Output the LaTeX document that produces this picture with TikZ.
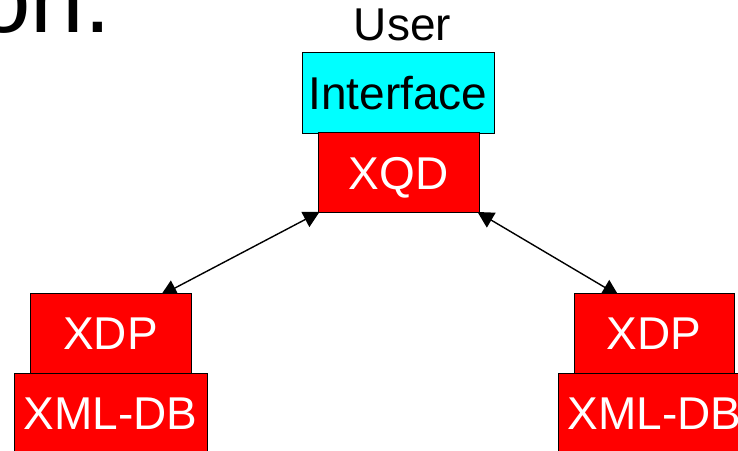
\documentclass[tikz,border=0pt]{standalone}
\usepackage{fontspec}
\setmainfont{Liberation Sans}
\usetikzlibrary{backgrounds,arrows.meta,calc}
\definecolor{tierred}{RGB}{255,0,0}
\definecolor{tiercyan}{RGB}{0,255,255}
\begin{document}
\begin{tikzpicture}[x=1pt,y=-1pt,
  label46/.style={font=\fontsize{46}{46}\selectfont, inner sep=0pt,
    text height=33pt, text depth=0pt},
  tier/.style={label46, draw=black, line width=1pt},
  redtier/.style={tier, fill=tierred, text=white},
  cyantier/.style={tier, fill=tiercyan, text=black},
  link/.style={line width=1.4pt,
    {Triangle[length=16pt,width=17pt]}-{Triangle[length=16pt,width=17pt]}}]
\useasboundingbox (0,0) rectangle (738,450);

% tail of the slide title above the diagram
\node[font=\fontsize{96}{96}\selectfont, inner sep=0pt, anchor=base east]
  (title) at (111,32) {on.};

% query side
\node[label46] (user) at (402.5,24) {User};
\node[cyantier, minimum width=192pt, minimum height=81pt] (ui) at (398,92.5) {Interface};
\node[redtier, minimum width=161pt, minimum height=80pt] (xqd) at (398.5,172.5) {XQD};

% left data source
\node[redtier, minimum width=161pt, minimum height=80pt] (xdpL) at (110.5,333) {XDP};
\node[redtier, minimum width=193pt, minimum height=80pt] (dbL) at (110.5,413) {XML-DB};

% right data source
\node[redtier, minimum width=160pt, minimum height=80pt] (xdpR) at (654,333) {XDP};
\node[redtier, minimum width=193pt, minimum height=80pt] (dbR) at (654.5,413) {XML-DB};

% white page and the links, drawn behind the boxes
\begin{scope}[on background layer]
  \fill[white] (0,0) rectangle (738,450);
  \draw[link] ($(xqd.south west)+(2,-1)$) --
    ($(xdpL.north west)!0.81!(xdpL.north east)+(0,3)$);
  \draw[link] ($(xqd.south east)+(-2,-1)$) --
    ($(xdpR.north west)!0.28!(xdpR.north east)+(0,3)$);
\end{scope}
\end{tikzpicture}
\end{document}
